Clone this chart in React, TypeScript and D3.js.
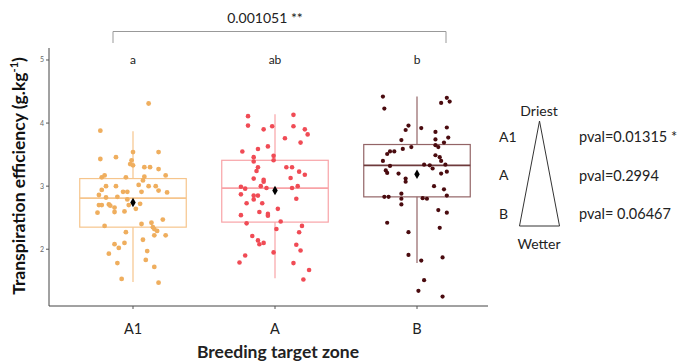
import React from 'react';
import * as d3 from 'd3';

// breeding target zones
const zones = ['A1', 'A', 'B'];
const groupLetters = ['a', 'ab', 'b'];

// box stats: [whiskerLow, q1, median, q3, whiskerHigh, mean]
const boxStats = [
  [1.48, 2.35, 2.81, 3.12, 3.87, 2.74],
  [1.54, 2.43, 2.97, 3.41, 4.14, 2.93],
  [1.78, 2.83, 3.33, 3.66, 4.42, 3.19],
];

// individual genotypes: [jitter (in category units), TE value]
const pointsA1 = [
  [0.11, 4.31], [-0.23, 3.88], [-0.23, 3.43], [-0.12, 3.46], [0, 3.54], [0.18, 3.54],
  [-0.01, 3.41], [-0.02, 3.35], [0, 3.33], [0.08, 3.3], [0.12, 3.3], [0.18, 3.27],
  [0.23, 3.17], [-0.22, 3.14], [-0.2, 3.17], [-0.05, 3.14], [0.08, 3.15], [0.07, 3.09],
  [-0.19, 3.0], [-0.12, 3.0], [0.04, 3.02], [0.11, 3.0], [0.16, 3.0], [-0.22, 2.94],
  [-0.07, 2.91], [-0.04, 2.91], [0.06, 2.91], [0.18, 2.93], [0.24, 2.9], [-0.24, 2.86],
  [-0.19, 2.82], [-0.11, 2.83], [-0.04, 2.79], [-0.24, 2.7], [-0.22, 2.7], [-0.17, 2.71],
  [-0.16, 2.69], [-0.13, 2.66], [-0.03, 2.7], [0.05, 2.72], [0.02, 2.64], [-0.25, 2.58],
  [-0.13, 2.59], [-0.06, 2.6], [-0.2, 2.37], [-0.05, 2.27], [0.06, 2.4], [0.13, 2.42],
  [0.14, 2.35], [0.15, 2.32], [0.17, 2.29], [0.15, 2.22], [0.21, 2.47], [0.23, 2.22],
  [0.07, 2.15], [-0.13, 2.08], [-0.06, 2.1], [-0.1, 2.02], [-0.17, 1.93], [0.1, 1.97],
  [0.09, 1.83], [-0.11, 1.78], [0.15, 1.72], [-0.08, 1.53], [0.18, 1.47],
];
const pointsA = [
  [-0.19, 4.11], [0.13, 4.13], [-0.19, 3.96], [0.13, 3.95], [-0.08, 3.9], [-0.02, 3.95],
  [0.21, 3.9], [0.23, 3.82], [0.07, 3.76], [0.18, 3.69], [-0.05, 3.63], [-0.12, 3.59],
  [-0.23, 3.55], [-0.15, 3.46], [-0.01, 3.48], [-0.01, 3.41], [-0.15, 3.39], [-0.12, 3.3],
  [0.08, 3.3], [0.12, 3.3], [-0.13, 3.24], [0.17, 3.23], [0.21, 3.18], [-0.15, 3.12],
  [0.11, 3.13], [-0.08, 3.1], [-0.08, 3.07], [-0.1, 3.0], [-0.06, 2.97], [-0.24, 2.99],
  [-0.21, 2.96], [0.12, 2.97], [0.16, 3.0], [-0.24, 2.87], [-0.15, 2.85], [-0.12, 2.85],
  [-0.15, 2.79], [0.15, 2.8], [-0.2, 2.73], [-0.09, 2.73], [0.02, 2.64], [-0.24, 2.54],
  [-0.11, 2.59], [-0.05, 2.56], [-0.05, 2.53], [0.04, 2.44], [-0.2, 2.41], [0.19, 2.37],
  [0.01, 2.32], [0.17, 2.27], [-0.16, 2.21], [-0.12, 2.14], [-0.11, 2.08], [-0.08, 2.1],
  [0.15, 2.07], [0.18, 1.98], [-0.01, 1.95], [-0.21, 1.9], [-0.25, 1.79], [0.13, 1.78],
  [0.24, 1.67], [0.2, 1.52],
];
const pointsB = [
  [-0.24, 4.42], [-0.23, 4.23], [0.21, 4.4], [0.23, 4.34], [0.17, 4.32], [-0.06, 3.96],
  [-0.08, 3.89], [0.03, 3.92], [0.21, 3.93], [0.13, 3.86], [-0.11, 3.73], [0.22, 3.77],
  [0.13, 3.74], [0.19, 3.69], [-0.04, 3.62], [-0.1, 3.59], [0.13, 3.65], [0.15, 3.62],
  [-0.16, 3.55], [-0.19, 3.55], [-0.21, 3.51], [0.13, 3.49], [0.16, 3.46], [0.17, 3.4],
  [-0.24, 3.4], [0.2, 3.34], [-0.19, 3.32], [0.05, 3.34], [0.09, 3.33], [0.11, 3.28],
  [-0.22, 3.25], [-0.21, 3.21], [-0.13, 3.2], [0.17, 3.2], [0.21, 3.23], [-0.08, 3.12],
  [-0.08, 3.07], [0.12, 3.0], [0.19, 2.95], [-0.11, 2.88], [0.21, 2.85], [-0.23, 2.83],
  [-0.2, 2.83], [-0.11, 2.8], [0.04, 2.81], [0.07, 2.8], [-0.11, 2.71], [0.15, 2.62],
  [0.21, 2.58], [-0.21, 2.42], [0.16, 2.34], [-0.06, 2.27], [-0.06, 1.91], [0.18, 1.87],
  [0.03, 1.82], [0.05, 1.51], [0.01, 1.34], [0.18, 1.25],
];
const groupPoints = [pointsA1, pointsA, pointsB];

const yTicks = [2, 3, 4, 5];
const overallTest = '0.001051 **';
const gradientZones = ['A1', 'A', 'B'];
const gradientPvals = ['pval=0.01315 *', 'pval=0.2994', 'pval= 0.06467'];

const dotColors = ['#EFAE5E', '#F04B55', '#4A0B0F'];
const boxColors = ['#F6C58C', '#F8A3A7', '#936466'];
const dotRadius = [2.4, 2.3, 2.1];

const font = 'Lato, "Open Sans", sans-serif';

export default function App() {
  const W = 678;
  const H = 362;
  const x = d3.scaleBand<string>().domain(zones).range([62, 488]).padding(0);
  const y = d3.scaleLinear().domain([1.1, 5.19]).range([306, 48]);
  const bw = x.bandwidth();
  const boxW = bw * 0.75;
  const cx = (z: string) => (x(z) ?? 0) + bw / 2;

  // gradient triangle on the right
  const gy = d3.scalePoint<string>().domain(gradientZones).range([137, 214]);

  return (
    <svg width={W} height={H} style={{ position: 'absolute', left: 0, top: 0, background: '#fff' }}
      fontFamily={font}>
      {/* axes */}
      <line x1={49} x2={49} y1={y(5.19)} y2={y(1.1)} stroke="#444" strokeWidth={1} />
      <line x1={49} x2={488} y1={y(1.1)} y2={y(1.1)} stroke="#444" strokeWidth={1} />
      {yTicks.map(t => (
        <g key={t}>
          <line x1={46} x2={49} y1={y(t)} y2={y(t)} stroke="#555" />
          <text x={44} y={y(t)} dy="0.35em" textAnchor="end" fontSize={7} fill="#666">{t}</text>
        </g>
      ))}
      {zones.map(z => (
        <g key={z}>
          <line x1={cx(z)} x2={cx(z)} y1={306} y2={309} stroke="#555" />
          <text x={cx(z)} y={334} textAnchor="middle" fontSize={14.5} fill="#222">{z}</text>
        </g>
      ))}
      <text x={278} y={358} textAnchor="middle" fontSize={17.5} fontWeight="bold" fill="#222">
        Breeding target zone
      </text>
      <text transform={`translate(25,176) rotate(-90)`} textAnchor="middle" fontSize={17.5}
        fontWeight="bold" fill="#111">
        Transpiration efficiency (g.kg
        <tspan fontSize={11} dy={-7}>-1</tspan>
        <tspan dy={7}>)</tspan>
      </text>

      {/* boxes */}
      {zones.map((z, i) => {
        const [lo, q1, med, q3, hi, mean] = boxStats[i];
        const c = cx(z);
        return (
          <g key={z}>
            <line x1={c} x2={c} y1={y(hi)} y2={y(q3)} stroke={boxColors[i]} strokeWidth={1.2} />
            <line x1={c} x2={c} y1={y(q1)} y2={y(lo)} stroke={boxColors[i]} strokeWidth={1.2} />
            <rect x={c - boxW / 2} y={y(q3)} width={boxW} height={y(q1) - y(q3)}
              fill="none" stroke={boxColors[i]} strokeWidth={1.2} />
            <line x1={c - boxW / 2} x2={c + boxW / 2} y1={y(med)} y2={y(med)}
              stroke={i === 2 ? '#6E3A3C' : boxColors[i]} strokeWidth={1.8} />
            {groupPoints[i].map(([j, v], k) => (
              <circle key={k} cx={c + j * bw} cy={y(v)} r={dotRadius[i]} fill={dotColors[i]} />
            ))}
            <path d={d3.symbol(d3.symbolDiamond, 26)() ?? ''} transform={`translate(${c},${y(mean)})`}
              fill="#000" />
            <text x={c} y={64} textAnchor="middle" fontSize={12} fill="#222">{groupLetters[i]}</text>
          </g>
        );
      })}

      {/* overall comparison bracket */}
      <path d={`M${113},43V31.5H${446}V43`} fill="none" stroke="#999" strokeWidth={1} />
      <text x={265} y={23} textAnchor="middle" fontSize={14} fill="#222">{overallTest}</text>

      {/* dryness gradient */}
      <path d={`M539.5,121L519.5,226H559.5Z`} fill="none" stroke="#333" strokeWidth={1} />
      <text x={539} y={116} textAnchor="middle" fontSize={14} fill="#222">Driest</text>
      <text x={539} y={249} textAnchor="middle" fontSize={14} fill="#222">Wetter</text>
      {gradientZones.map((z, i) => (
        <g key={z}>
          <text x={499} y={gy(z)} dy="0.35em" fontSize={14} fill="#222">{z}</text>
          <text x={579} y={gy(z)} dy="0.35em" fontSize={14.5} fill="#222">{gradientPvals[i]}</text>
        </g>
      ))}
    </svg>
  );
}
